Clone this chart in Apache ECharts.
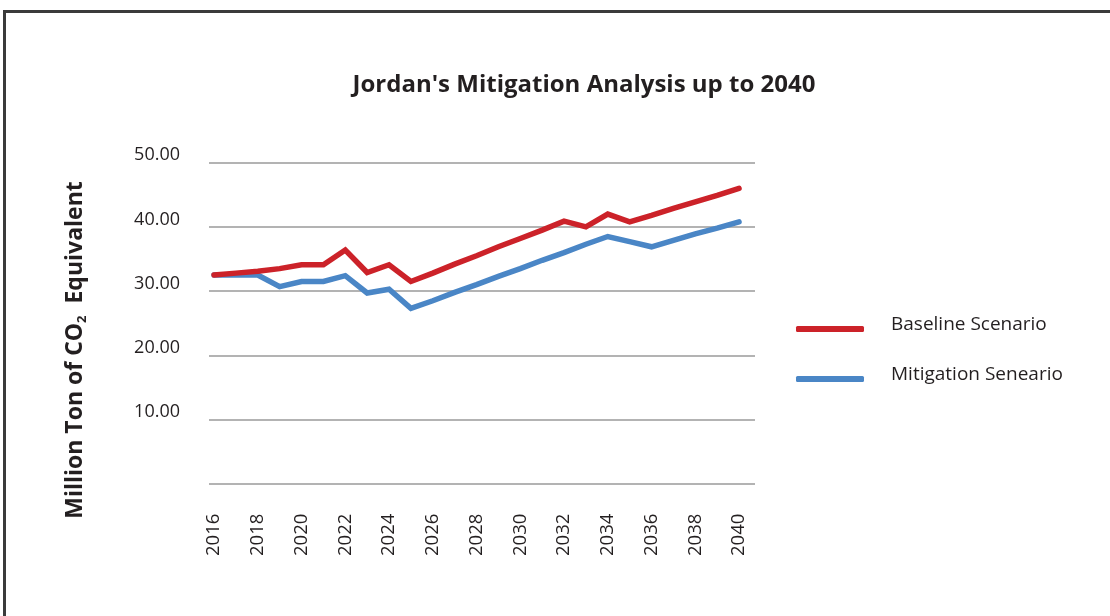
<!DOCTYPE html>
<html>
<head>
<meta charset="utf-8">
<title>Jordan's Mitigation Analysis up to 2040</title>
<script src="https://cdn.jsdelivr.net/npm/echarts@6/dist/echarts.min.js"></script>
<style>
  html, body { margin: 0; padding: 0; background: #ffffff; }
  #chart { position: absolute; left: 0; top: 0; width: 1110px; height: 616px; }
  #frame {
    position: absolute; left: 3px; top: 10px; width: 1200px; height: 700px;
    border-left: 3px solid #3b3b3b; border-top: 3px solid #3b3b3b;
    pointer-events: none;
  }
</style>
</head>
<body>
<div id="chart"></div>
<div id="frame"></div>
<script>
// Years of the projection
const years = [2016, 2017, 2018, 2019, 2020, 2021, 2022, 2023, 2024, 2025, 2026, 2027, 2028,
               2029, 2030, 2031, 2032, 2033, 2034, 2035, 2036, 2037, 2038, 2039, 2040];

// Emissions, million tonnes CO2 equivalent
const baseline = [32.5, 32.8, 33.1, 33.5, 34.1, 34.1, 36.4, 32.9, 34.1, 31.5, 32.8, 34.2, 35.5,
                  36.9, 38.2, 39.5, 40.9, 40.0, 42.0, 40.8, 41.8, 42.9, 43.9, 44.9, 46.0];
const mitigation = [32.5, 32.5, 32.5, 30.7, 31.5, 31.5, 32.4, 29.7, 30.3, 27.3, 28.5, 29.8, 31.0,
                    32.3, 33.5, 34.8, 36.0, 37.3, 38.5, 37.7, 36.9, 37.9, 38.9, 39.8, 40.8];

// Labelled years on the horizontal axis
const xTickLabels = [2016, 2018, 2020, 2022, 2024, 2026, 2028, 2030, 2032, 2034, 2036, 2038, 2040];

const seriesNames = ['Baseline Scenario', 'Mitigation Seneario'];
const seriesColors = ['#cc2229', '#4a86c6'];

const FONT = 'Open Sans';
const TEXT = '#231f20';

const chart = echarts.init(document.getElementById('chart'), null, { renderer: 'canvas' });

function pairs(vals) {
  return years.map((y, i) => [y, vals[i]]);
}

chart.setOption({
  animation: false,
  backgroundColor: '#ffffff',
  title: {
    text: "Jordan's Mitigation Analysis up to 2040",
    left: 579,
    textAlign: 'center',
    top: 68,
    textStyle: { fontFamily: FONT, fontWeight: 'bold', fontSize: 24, color: TEXT }
  },
  grid: { left: 209, top: 162.7, width: 546, height: 321, containLabel: false },
  xAxis: {
    type: 'value',
    min: 2015.77,
    max: 2040.73,
    axisLine: { show: false },
    axisTick: { show: false },
    splitLine: { show: false },
    axisLabel: {
      customValues: xTickLabels,
      rotate: 90,
      margin: 30,
      fontFamily: FONT,
      fontSize: 18.5,
      color: TEXT,
      formatter: v => String(v)
    }
  },
  yAxis: {
    type: 'value',
    min: 0,
    max: 50,
    interval: 10,
    axisLine: { show: false },
    axisTick: { show: false },
    splitLine: { lineStyle: { color: '#9a9a9a', width: 1.5 } },
    axisLabel: {
      margin: 29,
      fontFamily: FONT,
      fontSize: 18,
      color: TEXT,
      verticalAlign: 'bottom',
      lineHeight: 15,
      formatter: v => (v === 0 ? '' : v.toFixed(2))
    }
  },
  legend: {
    orient: 'vertical',
    left: 791,
    top: 310,
    itemWidth: 68,
    itemHeight: 6,
    itemGap: 31,
    icon: 'roundRect',
    formatter: name => '{t|' + name + '}',
    textStyle: {
      fontFamily: FONT,
      fontSize: 19,
      color: TEXT,
      padding: [0, 0, 0, 22],
      rich: {
        t: { fontFamily: FONT, fontSize: 19, color: TEXT, padding: [0, 0, 9, 0] }
      }
    },
    data: seriesNames
  },
  graphic: [{
    type: 'text',
    x: 75,
    y: 350,
    rotation: Math.PI / 2,
    style: {
      text: '{b|Million Ton of CO}{s|2}{b|  Equivalent}',
      align: 'center',
      verticalAlign: 'middle',
      rich: {
        b: { fontFamily: FONT, fontWeight: 'bold', fontSize: 23, fill: TEXT, lineHeight: 30 },
        s: { fontFamily: FONT, fontWeight: 'bold', fontSize: 13, fill: TEXT, lineHeight: 30, padding: [14, 0, 0, 0] }
      }
    }
  }],
  series: [
    {
      name: seriesNames[0],
      type: 'line',
      data: pairs(baseline),
      symbol: 'none',
      color: seriesColors[0],
      lineStyle: { width: 5.5, color: seriesColors[0], cap: 'round', join: 'miter' }
    },
    {
      name: seriesNames[1],
      type: 'line',
      data: pairs(mitigation),
      symbol: 'none',
      color: seriesColors[1],
      z: 1,
      lineStyle: { width: 5.5, color: seriesColors[1], cap: 'round', join: 'miter' }
    }
  ]
});
</script>
</body>
</html>
